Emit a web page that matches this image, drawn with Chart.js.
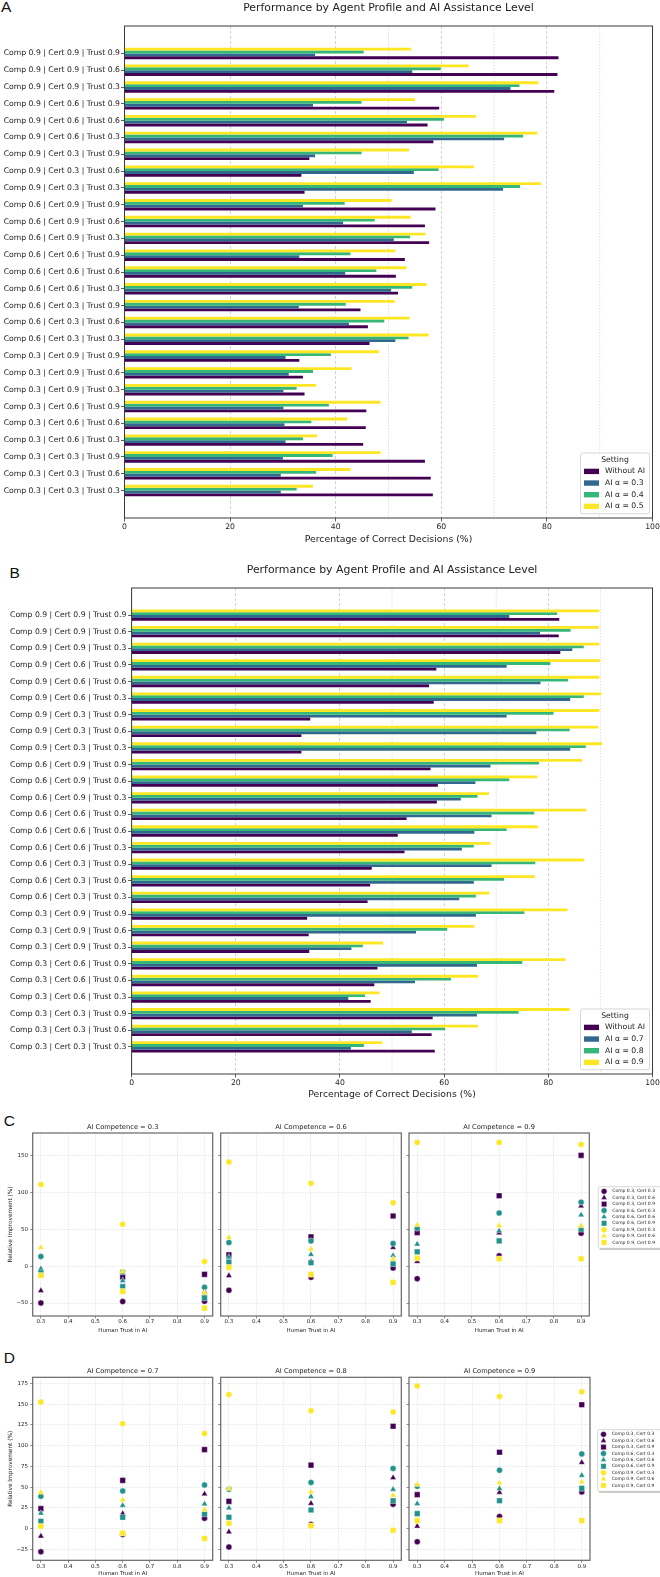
<!DOCTYPE html>
<html><head><meta charset="utf-8">
<script src="https://cdn.jsdelivr.net/npm/chart.js@4.4.1/dist/chart.umd.min.js"></script>
<style>
html,body{margin:0;padding:0;background:#fff;}
#fig{position:relative;width:660px;height:1577px;overflow:hidden;background:#fff;}
.pl{position:absolute;font-family:'Liberation Sans',Arial,sans-serif;font-size:15.5px;line-height:15.5px;color:#111;}
canvas{position:absolute;}
</style></head>
<body><div id="fig">
<div class="pl" style="left:1px;top:-1px">A</div>
<div class="pl" style="left:9.5px;top:564.5px">B</div>
<div class="pl" style="left:3.7px;top:1113px">C</div>
<div class="pl" style="left:3.7px;top:1350px">D</div>
</div>
<script>
const FONT = "'DejaVu Sans', sans-serif";
const TXT = '#222';

// ---------- Panels A & B : bar data ----------
const profiles = [
  'Comp 0.9 | Cert 0.9 | Trust 0.9','Comp 0.9 | Cert 0.9 | Trust 0.6','Comp 0.9 | Cert 0.9 | Trust 0.3',
  'Comp 0.9 | Cert 0.6 | Trust 0.9','Comp 0.9 | Cert 0.6 | Trust 0.6','Comp 0.9 | Cert 0.6 | Trust 0.3',
  'Comp 0.9 | Cert 0.3 | Trust 0.9','Comp 0.9 | Cert 0.3 | Trust 0.6','Comp 0.9 | Cert 0.3 | Trust 0.3',
  'Comp 0.6 | Cert 0.9 | Trust 0.9','Comp 0.6 | Cert 0.9 | Trust 0.6','Comp 0.6 | Cert 0.9 | Trust 0.3',
  'Comp 0.6 | Cert 0.6 | Trust 0.9','Comp 0.6 | Cert 0.6 | Trust 0.6','Comp 0.6 | Cert 0.6 | Trust 0.3',
  'Comp 0.6 | Cert 0.3 | Trust 0.9','Comp 0.6 | Cert 0.3 | Trust 0.6','Comp 0.6 | Cert 0.3 | Trust 0.3',
  'Comp 0.3 | Cert 0.9 | Trust 0.9','Comp 0.3 | Cert 0.9 | Trust 0.6','Comp 0.3 | Cert 0.9 | Trust 0.3',
  'Comp 0.3 | Cert 0.6 | Trust 0.9','Comp 0.3 | Cert 0.6 | Trust 0.6','Comp 0.3 | Cert 0.6 | Trust 0.3',
  'Comp 0.3 | Cert 0.3 | Trust 0.9','Comp 0.3 | Cert 0.3 | Trust 0.6','Comp 0.3 | Cert 0.3 | Trust 0.3'
];
const seriesA = ['Without AI', 'AI \u03b1 = 0.3', 'AI \u03b1 = 0.4', 'AI \u03b1 = 0.5'];
const seriesB = ['Without AI', 'AI \u03b1 = 0.7', 'AI \u03b1 = 0.8', 'AI \u03b1 = 0.9'];
const barColors = ['#440154', '#31688e', '#35b779', '#fde725'];

const withoutA = [82.2,82.0,81.4,59.6,57.4,58.5,35.0,33.5,34.1,58.9,56.9,57.7,53.1,51.4,51.8,44.7,46.1,46.4,33.1,33.8,34.1,45.8,45.7,45.2,56.9,58.0,58.4];
const alpha03A = [36.1,54.5,73.1,35.7,53.5,71.9,36.1,54.8,71.7,33.8,41.4,51.0,33.1,41.8,50.5,33.0,42.5,51.3,30.5,31.1,30.1,30.1,30.3,30.5,30.0,29.6,29.6];
const alpha04A = [45.3,59.9,74.8,44.9,60.5,75.5,44.9,59.5,74.9,41.7,47.4,54.1,42.8,47.7,54.5,41.9,49.2,53.8,39.1,35.7,32.6,38.7,35.4,33.8,39.4,36.3,32.6];
const alpha05A = [54.3,65.2,78.4,55.0,66.6,78.2,53.9,66.2,78.9,50.6,54.2,57.0,51.3,53.4,57.2,51.2,54.0,57.6,48.2,43.0,36.3,48.5,42.2,36.5,48.5,42.8,35.7];

const withoutB = [82.1,82.0,82.3,58.5,57.1,58.0,34.3,32.6,32.6,57.4,58.8,58.6,52.8,51.1,52.4,46.1,45.8,45.3,33.7,34.0,34.1,47.2,46.6,45.9,57.8,57.6,58.2];
const alpha07B = [72.5,78.4,84.6,72.0,78.5,84.2,72.0,77.7,84.2,68.9,66.0,63.2,69.1,65.8,63.4,69.1,65.7,62.9,66.1,54.6,42.2,66.3,54.4,41.6,66.3,53.8,42.1];
const alpha08B = [81.7,84.3,86.8,80.4,83.8,86.8,81.0,84.1,87.2,78.2,72.5,66.4,77.3,72.0,65.7,77.5,71.5,66.1,75.4,60.6,44.4,75.0,61.3,44.8,74.3,60.2,44.6];
const alpha09B = [89.8,89.7,89.8,89.9,89.8,90.2,89.8,89.6,90.3,86.5,77.9,68.6,87.3,78.0,68.9,86.9,77.4,68.7,83.7,65.8,48.3,83.3,66.5,47.6,84.1,66.5,48.1];

const pctTicks = [0, 20, 40, 60, 80, 100];
const refLines = [50, 70, 90];

// ---------- Panels C & D : relative improvement ----------
const trustLevels = [0.3, 0.6, 0.9];
const trustTicks = [0.3, 0.4, 0.5, 0.6, 0.7, 0.8, 0.9];
const profileNames = ['Comp 0.3, Cert 0.3','Comp 0.3, Cert 0.6','Comp 0.3, Cert 0.9',
                      'Comp 0.6, Cert 0.3','Comp 0.6, Cert 0.6','Comp 0.6, Cert 0.9',
                      'Comp 0.9, Cert 0.3','Comp 0.9, Cert 0.6','Comp 0.9, Cert 0.9'];
const profileColors = ['#440154','#440154','#440154','#21918c','#21918c','#21918c','#fde725','#fde725','#fde725'];
const profileShapes = ['circle','triangle','rect','circle','triangle','rect','circle','triangle','rect'];
const impTicksC = [-50, 0, 50, 100, 150];
const impTicksD = [-25, 0, 25, 50, 75, 100, 125, 150, 175];

// rows: profileNames order; columns: trust 0.3, 0.6, 0.9
const impC_AI03 = [[-49.8,-48.0,-47.5],[-33.2,-34.0,-35.0],[-11.0,-14.8,-11.2],[13.0,-8.0,-28.7],[-3.6,-19.7,-37.5],[-9.0,-27.8,-43.0],[110.3,56.5,6.3],[25.1,-7.2,-36.3],[-12.6,-34.1,-56.9]];
const impC_AI06 = [[-32.7,-15.2,-2.7],[-13.0,6.0,25.1],[15.2,39.5,67.7],[31.8,34.1,30.5],[12.1,15.7,14.3],[5.4,4.5,3.1],[140.8,112.1,85.6],[38.6,22.9,9.4],[-1.8,-11.2,-22.0]];
const impC_AI09 = [[-17.0,13.9,44.4],[6.3,44.8,81.2],[45.3,95.1,149.8],[51.1,71.7,86.5],[29.6,47.5,69.1],[19.3,34.1,49.8],[167.3,167.3,164.6],[55.6,54.7,54.3],[10.8,9.9,9.9]];
const impD_AI07 = [[-28.0,-7.2,12.4],[-9.2,18.0,41.7],[24.0,58.1,95.3],[38.9,45.3,52.5],[18.4,28.0,29.6],[8.8,13.6,17.6],[152.6,126.6,114.6],[43.7,34.5,22.8],[2.8,-5.6,-12.0]];
const impD_AI08 = [[-22.4,4.8,29.2],[-4.0,30.4,61.3],[32.8,76.5,123.4],[47.3,55.7,72.5],[24.8,38.5,47.3],[13.6,22.4,33.6],[161.8,142.2,140.6],[48.1,44.1,40.1],[6.4,3.2,-2.0]];
const impD_AI09 = [[-16.0,14.4,44.1],[2.8,43.7,79.7],[40.9,92.1,149.4],[50.9,70.5,90.1],[30.0,48.1,64.1],[18.0,33.6,48.5],[171.9,159.4,165.0],[52.9,54.9,56.1],[9.6,9.6,9.6]];

Chart.defaults.font.family = FONT;
Chart.defaults.color = TXT;

const fig = document.getElementById('fig');
function makeCanvas(left, top, w, h) {
  const c = document.createElement('canvas');
  c.width = w; c.height = h;
  c.style.left = left + 'px'; c.style.top = top + 'px';
  c.style.width = w + 'px'; c.style.height = h + 'px';
  fig.appendChild(c);
  return c;
}

function framePlugin(color, width) {
  return {id: 'frame', afterDatasetsDraw(chart) {
    const {ctx, chartArea: a} = chart;
    ctx.save(); ctx.strokeStyle = color; ctx.lineWidth = width;
    ctx.strokeRect(a.left, a.top, a.right - a.left, a.bottom - a.top);
    ctx.restore();
  }};
}
function titlePlugin(text, y, size) {
  return {id: 'ptitle', afterDraw(chart) {
    const {ctx, chartArea: a} = chart;
    ctx.save(); ctx.font = size + 'px ' + FONT; ctx.fillStyle = TXT;
    ctx.textAlign = 'center'; ctx.textBaseline = 'middle';
    ctx.fillText(text, (a.left + a.right) / 2, y);
    ctx.restore();
  }};
}
function refLinePlugin() {
  return {id: 'refl', beforeDatasetsDraw(chart) {
    const {ctx, chartArea: a, scales} = chart;
    ctx.save(); ctx.strokeStyle = 'rgba(0,0,0,0.16)'; ctx.lineWidth = 0.8; ctx.setLineDash([1.5, 1.5]);
    refLines.forEach(v => {
      const px = scales.x.getPixelForValue(v);
      ctx.beginPath(); ctx.moveTo(px, a.top); ctx.lineTo(px, a.bottom); ctx.stroke();
    });
    ctx.restore();
  }};
}
function roundRect(ctx, x, y, w, h, r) {
  ctx.beginPath();
  ctx.moveTo(x + r, y); ctx.lineTo(x + w - r, y); ctx.quadraticCurveTo(x + w, y, x + w, y + r);
  ctx.lineTo(x + w, y + h - r); ctx.quadraticCurveTo(x + w, y + h, x + w - r, y + h);
  ctx.lineTo(x + r, y + h); ctx.quadraticCurveTo(x, y + h, x, y + h - r);
  ctx.lineTo(x, y + r); ctx.quadraticCurveTo(x, y, x + r, y); ctx.closePath();
}
function barLegendPlugin(names) {
  return {id: 'blegend', afterDraw(chart) {
    const {ctx, chartArea: a} = chart;
    const x = a.right - 72, y = a.bottom - 65, w = 69, h = 60.7;
    ctx.save();
    roundRect(ctx, x, y, w, h, 2);
    ctx.fillStyle = 'rgba(255,255,255,0.85)'; ctx.fill();
    ctx.strokeStyle = '#cccccc'; ctx.lineWidth = 0.8; ctx.stroke();
    ctx.font = '7.7px ' + FONT; ctx.fillStyle = TXT; ctx.textBaseline = 'middle';
    ctx.textAlign = 'center'; ctx.fillText('Setting', x + 34.5, y + 6.9);
    ctx.textAlign = 'left';
    names.forEach((n, i) => {
      const cy = y + 18.4 + i * 11.65;
      ctx.fillStyle = barColors[i]; ctx.fillRect(x + 3.5, cy - 2.7, 15, 5.4);
      ctx.fillStyle = TXT; ctx.fillText(n, x + 24.5, cy);
    });
    ctx.restore();
  }};
}

function barPanel(names, vals, o) {
  const canvas = makeCanvas(0, o.top, 660, o.h);
  const datasets = [];
  for (let k = names.length - 1; k >= 0; k--) {
    datasets.push({
      label: names[k],
      data: profiles.map((p, i) => ({x: vals[k][i], y: i})),
      backgroundColor: barColors[k], borderWidth: 0,
      categoryPercentage: 0.68, barPercentage: 1
    });
  }
  const bot = o.b - o.top;
  new Chart(canvas, {
    type: 'bar',
    data: {datasets},
    options: {
      indexAxis: 'y', responsive: false, animation: false, events: [],
      layout: {padding: {left: 0, right: 660 - o.r, top: o.t - o.top, bottom: 0}, autoPadding: false},
      plugins: {legend: {display: false}, tooltip: {enabled: false}},
      scales: {
        x: {
          type: 'linear', position: 'bottom', min: 0, max: 100,
          afterBuildTicks: s => { s.ticks = pctTicks.map(v => ({value: v})); },
          afterFit: s => { s.height = o.h - bot; s.paddingLeft = 0; s.paddingRight = 0; },
          ticks: {font: {size: 7.7}, color: TXT, padding: 0.9, maxRotation: 0, autoSkip: false},
          grid: {color: 'rgba(0,0,0,0.22)', lineWidth: 0.8, drawTicks: true, tickLength: 3.5, tickColor: '#333', tickWidth: 0.8},
          border: {display: false, dash: [3, 2]},
          title: {display: true, text: 'Percentage of Correct Decisions (%)', font: {size: 9.3}, color: TXT, padding: {top: 0, bottom: o.xtPad}}
        },
        y: {
          type: 'linear', reverse: true, min: -1.63, max: 27.63, offset: false,
          afterBuildTicks: s => { s.ticks = profiles.map((p, i) => ({value: i})); },
          afterFit: s => { s.width = o.l; s.paddingTop = 0; s.paddingBottom = 0; },
          ticks: {font: {size: 7.7}, color: TXT, padding: o.ytPad, autoSkip: false, callback: v => profiles[v]},
          grid: {offset: false, drawOnChartArea: false, drawTicks: true, tickLength: 3.5, tickColor: '#333', tickWidth: 0.8},
          border: {display: false}
        }
      }
    },
    plugins: [refLinePlugin(), framePlugin('#3a3a3a', 1),
              titlePlugin('Performance by Agent Profile and AI Assistance Level', o.titleY - o.top, 10.9),
              barLegendPlugin(names)]
  });
}

barPanel(seriesA, [withoutA, alpha03A, alpha04A, alpha05A],
  {top: 0, h: 548, l: 124.5, r: 652.5, t: 26, b: 518, titleY: 8.3, xtPad: 2.4, ytPad: 1});
barPanel(seriesB, [withoutB, alpha07B, alpha08B, alpha09B],
  {top: 556, h: 545, l: 131.6, r: 652.5, t: 588, b: 1074, titleY: 570, xtPad: 0.4, ytPad: 1.8});

// ---------- scatter helpers ----------
const shapeRadius = {circle: 3, triangle: 3.6, rect: 4.0};
function drawMarker(ctx, shape, x, y, color) {
  ctx.beginPath();
  if (shape === 'circle') { ctx.arc(x, y, 2.9, 0, Math.PI * 2); }
  else if (shape === 'triangle') {
    const r = 3.4;
    ctx.moveTo(x, y - r); ctx.lineTo(x + 0.866 * r, y + 0.5 * r); ctx.lineTo(x - 0.866 * r, y + 0.5 * r); ctx.closePath();
  } else { ctx.rect(x - 2.7, y - 2.7, 5.4, 5.4); }
  ctx.fillStyle = color; ctx.fill();
  ctx.strokeStyle = 'rgba(255,255,255,0.8)'; ctx.lineWidth = 0.5; ctx.stroke();
}
function scatterLegendPlugin(bx, by, cl, ct) {
  return {id: 'slegend', afterDraw(chart) {
    const ctx = chart.ctx;
    const x = bx - cl, y = by - ct, w = 66, h = 61.6;
    ctx.save();
    ctx.fillStyle = 'rgba(0,0,0,0.25)'; ctx.fillRect(x + 1.5, y + 1.5, w, h);
    roundRect(ctx, x, y, w, h, 1.5);
    ctx.fillStyle = '#fff'; ctx.fill();
    ctx.strokeStyle = '#c8c8c8'; ctx.lineWidth = 0.7; ctx.stroke();
    ctx.font = '4.5px ' + FONT; ctx.textBaseline = 'middle'; ctx.textAlign = 'left';
    profileNames.forEach((n, i) => {
      const cy = y + 4.6 + i * 6.4;
      drawMarker(ctx, profileShapes[i], x + 5.8, cy, profileColors[i]);
      ctx.fillStyle = TXT; ctx.fillText(n, x + 14, cy);
    });
    ctx.restore();
  }};
}
const fmtImp = v => (v < 0 ? '\u2212' + Math.abs(v) : String(v));

function scatterPanel(rows, o) {
  const canvas = makeCanvas(o.cl, o.ct, o.cw, o.ch);
  const datasets = rows.map((vals, i) => ({
    label: profileNames[i],
    data: trustLevels.map((t, j) => ({x: t, y: vals[j]})),
    pointStyle: profileShapes[i],
    pointRadius: shapeRadius[profileShapes[i]],
    backgroundColor: profileColors[i],
    borderColor: 'rgba(255,255,255,0.8)', borderWidth: 0.5,
    order: rows.length - i
  }));
  const plugins = [framePlugin('#666', 1.2), titlePlugin(o.title, o.titleY - o.ct, 6.7)];
  if (o.legend) plugins.push(scatterLegendPlugin(o.legend.x, o.legend.y, o.cl, o.ct));
  new Chart(canvas, {
    type: 'scatter',
    data: {datasets},
    options: {
      responsive: false, animation: false, events: [],
      layout: {padding: {left: 0, right: o.cl + o.cw - o.r, top: o.t - o.ct, bottom: 0}, autoPadding: false},
      plugins: {legend: {display: false}, tooltip: {enabled: false}},
      scales: {
        x: {
          type: 'linear', position: 'bottom', min: 0.27, max: 0.93,
          afterBuildTicks: s => { s.ticks = trustTicks.map(v => ({value: v})); },
          afterFit: s => { s.height = o.ct + o.ch - o.b; s.paddingLeft = 0; s.paddingRight = 0; },
          ticks: {font: {size: 5.5}, color: TXT, padding: o.xtickPad, maxRotation: 0, autoSkip: false, callback: v => v.toFixed(1)},
          grid: {color: 'rgba(0,0,0,0.17)', lineWidth: 0.6, drawTicks: true, tickLength: 2.5, tickColor: '#444', tickWidth: 0.6},
          border: {display: false, dash: [1.2, 1.2]},
          title: {display: true, text: 'Human Trust in AI', font: {size: 5.5}, color: TXT, padding: {top: 0, bottom: o.xtitlePad}}
        },
        y: {
          type: 'linear', min: o.yMin, max: o.yMax,
          afterBuildTicks: s => { s.ticks = o.yTicks.map(v => ({value: v})); },
          afterFit: s => { s.width = o.l - o.cl; s.paddingTop = 0; s.paddingBottom = 0; },
          ticks: {display: o.showY, font: {size: 5.5}, color: TXT, padding: 2.2, autoSkip: false, callback: fmtImp},
          grid: {color: 'rgba(0,0,0,0.17)', lineWidth: 0.6, drawTicks: true, tickLength: 2.5, tickColor: '#444', tickWidth: 0.6},
          border: {display: false, dash: [1.2, 1.2]},
          title: {display: o.showY, text: 'Relative Improvement (%)', font: {size: 5.8}, color: TXT, padding: {top: 7.2, bottom: 0}}
        }
      }
    },
    plugins
  });
}

const cRow = {ct: 1118, ch: 218, t: 1133, b: 1316, yMin: -67.5, yMax: 180, yTicks: impTicksC, titleY: 1127.3, xtickPad: 0.2, xtitlePad: 1.7};
scatterPanel(impC_AI03, Object.assign({}, cRow, {cl: 0, cw: 216, l: 32.7, r: 212.7, showY: true, title: 'AI Competence = 0.3'}));
scatterPanel(impC_AI06, Object.assign({}, cRow, {cl: 214, cw: 190, l: 220.7, r: 401.3, showY: false, title: 'AI Competence = 0.6'}));
scatterPanel(impC_AI09, Object.assign({}, cRow, {cl: 405, cw: 255, l: 409, r: 589.3, showY: false, title: 'AI Competence = 0.9', legend: {x: 598.3, y: 1186.7}}));

const dRow = {ct: 1362, ch: 215, t: 1377.3, b: 1560.3, yMin: -38.3, yMax: 182.5, yTicks: impTicksD, titleY: 1371, xtickPad: 0, xtitlePad: 0};
scatterPanel(impD_AI07, Object.assign({}, dRow, {cl: 0, cw: 216, l: 32.7, r: 212.7, showY: true, title: 'AI Competence = 0.7'}));
scatterPanel(impD_AI08, Object.assign({}, dRow, {cl: 214, cw: 190, l: 220.7, r: 401.3, showY: false, title: 'AI Competence = 0.8'}));
scatterPanel(impD_AI09, Object.assign({}, dRow, {cl: 405, cw: 255, l: 409, r: 590, showY: false, title: 'AI Competence = 0.9', legend: {x: 597.7, y: 1429.7}}));
</script></body></html>
